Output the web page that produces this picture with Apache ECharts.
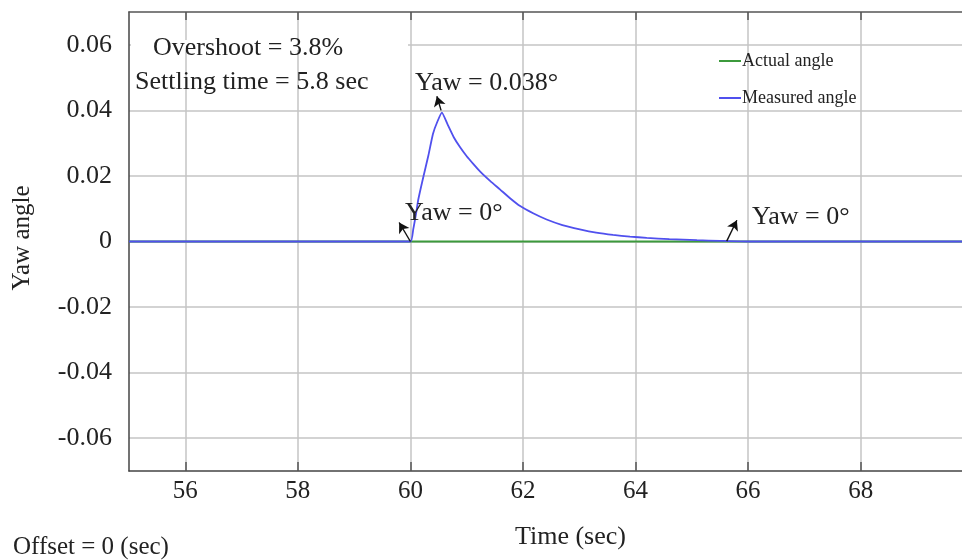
<!DOCTYPE html>
<html><head><meta charset="utf-8">
<script src="https://cdn.jsdelivr.net/npm/echarts@6/dist/echarts.min.js"></script>
<style>html,body{margin:0;padding:0;background:#fff}#c{width:962px;height:560px}</style>
</head><body><div id="c"></div><script>
const timeActual = [55, 69.8];
const actualAngle = [0, 0];
const timeMeasured = [55, 60, 60.05, 60.1, 60.14, 60.22, 60.32, 60.40, 60.48, 60.56, 60.66, 60.77, 60.88, 61.0, 61.12, 61.24, 61.42, 61.59, 61.77, 61.95, 62.18, 62.42, 62.7, 63.01, 63.3, 63.6, 63.9, 64.2, 64.6, 65.09, 65.5, 66.0, 69.8];
const measuredAngle = [0, 0, 0.0037, 0.0085, 0.0128, 0.019, 0.0263, 0.0328, 0.0366, 0.0393, 0.0357, 0.0318, 0.0288, 0.026, 0.0236, 0.0213, 0.0184, 0.0159, 0.0132, 0.0108, 0.0086, 0.0067, 0.005, 0.0037, 0.0027, 0.002, 0.0015, 0.0011, 0.0007, 0.0004, 0.0002, 0, 0];
const xTicks = [56, 58, 60, 62, 64, 66, 68];
const yTicks = [-0.06, -0.04, -0.02, 0, 0.02, 0.04, 0.06];
const seriesNames = ['Actual angle', 'Measured angle'];
const arrows = [
  [[60.0, 0.0], [59.8, 0.0058]],
  [[60.545, 0.0400], [60.47, 0.0443]],
  [[65.62, 0.0001], [65.80, 0.0065]]
];

const serif = 'Liberation Serif';
const F = (s) => s + 'px "Liberation Serif"';
const chart = echarts.init(document.getElementById('c'));
const zip = (xs, ys) => xs.map((x, i) => [x, ys[i]]);
const txt = (text, x, y, size, extra) => Object.assign({
  type: 'text', x: x, y: y, z: 100,
  style: { text: text, font: F(size), fill: '#222', verticalAlign: 'middle' }
}, extra || {});
chart.setOption({
  animation: false,
  backgroundColor: '#fff',
  grid: { left: 129, top: 12, right: 0, bottom: 89, show: false },
  legend: {
    data: seriesNames, orient: 'vertical', left: 714, top: 47, itemGap: 19,
    itemWidth: 22, itemHeight: 2, icon: 'rect',
    textStyle: { fontFamily: serif, fontSize: 18, color: '#222', padding: [0, 0, 0, -4] }
  },
  xAxis: [{
    type: 'value', min: 55, max: 69.8,
    axisLine: { onZero: false, lineStyle: { color: '#444', width: 1.5 } },
    axisTick: { show: true, inside: true, length: 9, customValues: xTicks, lineStyle: { color: '#555', width: 1.5 } },
    axisLabel: { customValues: xTicks, fontFamily: serif, fontSize: 25, color: '#222', margin: 8 },
    splitLine: { show: true, lineStyle: { color: '#c4c4c4', width: 1.5 } }
  }, {
    type: 'value', min: 55, max: 69.8, position: 'top',
    axisLine: { show: true, onZero: false, lineStyle: { color: '#555', width: 1.5 } },
    axisTick: { show: true, inside: true, length: 8, customValues: xTicks, lineStyle: { color: '#555', width: 1.5 } },
    axisLabel: { show: false },
    splitLine: { show: false }
  }],
  yAxis: {
    type: 'value', min: -0.07, max: 0.07,
    axisLine: { show: true, lineStyle: { color: '#444', width: 1.5 } },
    axisTick: { show: false, customValues: yTicks },
    axisLabel: {
      customValues: yTicks, fontFamily: serif, fontSize: 26, color: '#222', margin: 17,
      formatter: v => (Math.abs(v) < 1e-9 ? '0' : v.toFixed(2))
    },
    splitLine: { show: true, lineStyle: { color: '#c4c4c4', width: 1.5 } }
  },
  series: [{
    name: seriesNames[0], type: 'line', data: zip(timeActual, actualAngle),
    showSymbol: false, lineStyle: { color: '#3c9a3c', width: 1.8 }, itemStyle: { color: '#3c9a3c' }
  }, {
    name: seriesNames[1], type: 'line', data: zip(timeMeasured, measuredAngle),
    showSymbol: false, smooth: 0.15, lineStyle: { color: '#5050ee', width: 1.8 }, itemStyle: { color: '#5050ee' },
    markLine: {
      silent: true, symbol: ['none', 'arrow'], symbolSize: [9, 10],
      label: { show: false }, lineStyle: { color: '#111', width: 1.4, type: 'solid' },
      data: arrows.map(a => [{ coord: a[0] }, { coord: a[1] }])
    }
  }],
  graphic: [
    { type: 'rect', z: 90, shape: { x: 131, y: 40, width: 277, height: 10 }, style: { fill: '#fff' } },
    txt('Overshoot = 3.8%', 153, 48, 26),
    txt('Settling time = 5.8 sec', 135, 82, 26),
    txt('Yaw = 0.038°', 415, 83, 26),
    txt('Yaw = 0°', 405, 213, 26),
    txt('Yaw = 0°', 752, 217, 26),
    txt('Time (sec)', 515, 537, 26),
    txt('Offset = 0 (sec)', 13, 547, 25),
    { type: 'text', x: 22, y: 238, rotation: Math.PI / 2, z: 100,
      style: { text: 'Yaw angle', font: F(25), fill: '#222', align: 'center', verticalAlign: 'middle' } }
  ]
});
</script></body></html>
